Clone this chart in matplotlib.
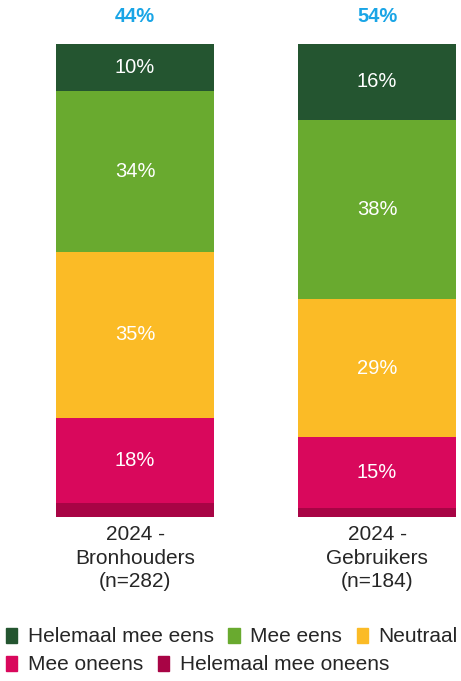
import matplotlib.pyplot as plt
from matplotlib.patches import Patch

plt.rcParams['font.family'] = ['Liberation Sans', 'DejaVu Sans']

groepen = ['2024 -\nBronhouders\n(n=282)', '2024 -\nGebruikers\n(n=184)']
categorieen = ['Helemaal mee oneens', 'Mee oneens', 'Neutraal', 'Mee eens', 'Helemaal mee eens']
kleuren = ['#a80445', '#d9085c', '#fbbb26', '#69aa2f', '#245530']

helemaal_oneens = [3, 2]
oneens = [18, 15]
neutraal = [35, 29]
eens = [34, 38]
helemaal_eens = [10, 16]
reeksen = [helemaal_oneens, oneens, neutraal, eens, helemaal_eens]

fig = plt.figure(figsize=(4.61, 6.81), dpi=100)
ax = fig.add_axes([0, 1 - 517 / 681, 1, 473 / 681])

x = [0, 1]
bodem = [0, 0]
for naam, waarden, kleur in zip(categorieen, reeksen, kleuren):
    balken = ax.bar(x, waarden, 0.65, bottom=bodem, color=kleur, label=naam)
    for b, w, o in zip(balken, waarden, bodem):
        if w >= 5:
            ax.text(b.get_x() + b.get_width() / 2, o + w / 2, f'{w}%',
                    ha='center', va='center', color='white', fontsize=14.5)
    bodem = [o + w for o, w in zip(bodem, waarden)]

# totaal eens bovenaan
for xi, a, b in zip(x, eens, helemaal_eens):
    ax.text(xi, 100 + 28 * 100 / 473, f'{a + b}%', ha='center', va='center',
            color='#1aa5e6', fontsize=14.5, fontweight='bold')

ax.set_xlim(-0.558, 1.347)
ax.set_ylim(0, 100)
ax.set_xticks(x)
ax.set_xticklabels(groepen, fontsize=15, color='#262626', linespacing=1.3)
ax.tick_params(axis='x', length=0, pad=6)
ax.set_yticks([])
for s in ax.spines.values():
    s.set_visible(False)

handles = [Patch(color=k) for k in kleuren]
rij1 = [4, 3, 2]
rij2 = [1, 0]
opts = dict(frameon=False, fontsize=15, handlelength=0.55, handleheight=0.75,
            handletextpad=0.5, columnspacing=0.7, borderpad=0, borderaxespad=0,
            labelcolor='#262626')
leg1 = fig.legend([handles[i] for i in rij1], [categorieen[i] for i in rij1],
                  ncol=3, loc='center left', bbox_to_anchor=(6 / 461, 1 - 637 / 681), **opts)
leg2 = fig.legend([handles[i] for i in rij2], [categorieen[i] for i in rij2],
                  ncol=2, loc='center left', bbox_to_anchor=(6 / 461, 1 - 665 / 681), **opts)

fig.savefig('out.png', dpi=100)
